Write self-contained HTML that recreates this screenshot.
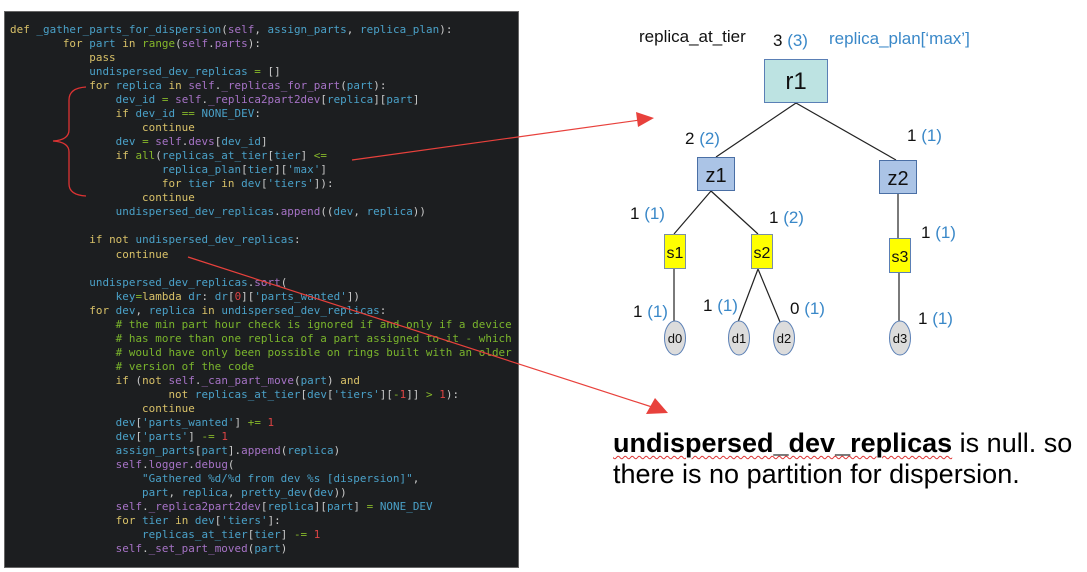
<!DOCTYPE html>
<html><head><meta charset="utf-8"><style>
html,body{margin:0;padding:0;background:#fff;width:1087px;height:572px;overflow:hidden;position:relative}
#code{position:absolute;left:4px;top:11px;width:515px;height:557px;background:#1c1e20;border:1px solid #666;box-sizing:border-box}
pre{position:absolute;left:10px;top:23px;margin:0;font-family:"DejaVu Sans Mono","Liberation Mono",monospace;font-size:10.9px;letter-spacing:0.045px;line-height:14.03px;color:#c9c9c9;white-space:pre}
.k{color:#d8c168}.v{color:#4aa1c8}.s{color:#a673c6}.g{color:#86b82a}.n{color:#dd4444}.c{color:#7ab52c}
svg{position:absolute;left:0;top:0}
.t{font-family:"Liberation Sans",sans-serif;font-size:17px;fill:#111}
.b{fill:#3a88c8}
#note{position:absolute;left:613px;top:428px;font-family:"Liberation Sans",sans-serif;font-size:27px;line-height:31px;color:#000;white-space:nowrap}
</style></head><body>
<div id="code"></div>
<pre><span class="k">def</span> <span class="v">_gather_parts_for_dispersion</span>(<span class="s">self</span>, <span class="v">assign_parts</span>, <span class="v">replica_plan</span>):
        <span class="k">for</span> <span class="v">part</span> <span class="k">in</span> <span class="g">range</span>(<span class="s">self</span>.<span class="s">parts</span>):
            <span class="k">pass</span>
            <span class="v">undispersed_dev_replicas</span> <span class="g">=</span> []
            <span class="k">for</span> <span class="v">replica</span> <span class="k">in</span> <span class="s">self</span>.<span class="s">_replicas_for_part</span>(<span class="v">part</span>):
                <span class="v">dev_id</span> <span class="g">=</span> <span class="s">self</span>.<span class="s">_replica2part2dev</span>[<span class="v">replica</span>][<span class="v">part</span>]
                <span class="k">if</span> <span class="v">dev_id</span> <span class="g">==</span> <span class="v">NONE_DEV</span>:
                    <span class="k">continue</span>
                <span class="v">dev</span> <span class="g">=</span> <span class="s">self</span>.<span class="s">devs</span>[<span class="v">dev_id</span>]
                <span class="k">if</span> <span class="g">all</span>(<span class="v">replicas_at_tier</span>[<span class="v">tier</span>] <span class="g">&lt;=</span>
                       <span class="v">replica_plan</span>[<span class="v">tier</span>][<span class="v">'max'</span>]
                       <span class="k">for</span> <span class="v">tier</span> <span class="k">in</span> <span class="v">dev</span>[<span class="v">'tiers'</span>]):
                    <span class="k">continue</span>
                <span class="v">undispersed_dev_replicas</span>.<span class="s">append</span>((<span class="v">dev</span>, <span class="v">replica</span>))

            <span class="k">if</span> <span class="k">not</span> <span class="v">undispersed_dev_replicas</span>:
                <span class="k">continue</span>

            <span class="v">undispersed_dev_replicas</span>.<span class="s">sort</span>(
                <span class="v">key</span><span class="g">=</span><span class="k">lambda</span> <span class="v">dr</span>: <span class="v">dr</span>[<span class="n">0</span>][<span class="v">'parts_wanted'</span>])
            <span class="k">for</span> <span class="v">dev</span>, <span class="v">replica</span> <span class="k">in</span> <span class="v">undispersed_dev_replicas</span>:
                <span class="c"># the min part hour check is ignored if and only if a device</span>
                <span class="c"># has more than one replica of a part assigned to it - which</span>
                <span class="c"># would have only been possible on rings built with an older</span>
                <span class="c"># version of the code</span>
                <span class="k">if</span> (<span class="k">not</span> <span class="s">self</span>.<span class="s">_can_part_move</span>(<span class="v">part</span>) <span class="k">and</span>
                        <span class="k">not</span> <span class="v">replicas_at_tier</span>[<span class="v">dev</span>[<span class="v">'tiers'</span>][<span class="g">-</span><span class="n">1</span>]] <span class="g">&gt;</span> <span class="n">1</span>):
                    <span class="k">continue</span>
                <span class="v">dev</span>[<span class="v">'parts_wanted'</span>] <span class="g">+=</span> <span class="n">1</span>
                <span class="v">dev</span>[<span class="v">'parts'</span>] <span class="g">-=</span> <span class="n">1</span>
                <span class="v">assign_parts</span>[<span class="v">part</span>].<span class="s">append</span>(<span class="v">replica</span>)
                <span class="s">self</span>.<span class="s">logger</span>.<span class="s">debug</span>(
                    <span class="v">"Gathered %d/%d from dev %s [dispersion]"</span>,
                    <span class="v">part</span>, <span class="v">replica</span>, <span class="v">pretty_dev</span>(<span class="v">dev</span>))
                <span class="s">self</span>.<span class="s">_replica2part2dev</span>[<span class="v">replica</span>][<span class="v">part</span>] <span class="g">=</span> <span class="v">NONE_DEV</span>
                <span class="k">for</span> <span class="v">tier</span> <span class="k">in</span> <span class="v">dev</span>[<span class="v">'tiers'</span>]:
                    <span class="v">replicas_at_tier</span>[<span class="v">tier</span>] <span class="g">-=</span> <span class="n">1</span>
                <span class="s">self</span>.<span class="s">_set_part_moved</span>(<span class="v">part</span>)</pre>
<svg width="1087" height="572" viewBox="0 0 1087 572">
<path d="M86 87 Q69 88 69 100 L69 130 Q69 140 53 141 Q69 142 69 152 L69 184 Q69 195 86 196" fill="none" stroke="#d33" stroke-width="1.3"/>
<line x1="352" y1="160" x2="640" y2="120" stroke="#e8413c" stroke-width="1.2"/>
<polygon points="654,118 636,112 638,127" fill="#e8413c"/>
<line x1="188" y1="257" x2="652" y2="407" stroke="#e8413c" stroke-width="1.2"/>
<polygon points="668,413 655,398 646,414" fill="#e8413c"/>
<g stroke="#222" stroke-width="1.2" fill="none">
<line x1="796" y1="103" x2="716" y2="157"/><line x1="796" y1="103" x2="896" y2="160"/>
<line x1="711" y1="191" x2="674" y2="234"/><line x1="711" y1="191" x2="758" y2="234"/>
<line x1="898" y1="194" x2="898" y2="238"/>
<line x1="674" y1="269" x2="674" y2="321"/>
<line x1="758" y1="269" x2="738" y2="322"/><line x1="758" y1="269" x2="780" y2="322"/>
<line x1="899" y1="272" x2="899" y2="321"/>
</g>
<rect x="764.5" y="59.5" width="63" height="43" fill="#bde3e2" stroke="#5a7fb5"/>
<rect x="697.5" y="157.5" width="37" height="33" fill="#abc4e6" stroke="#4a6fa5"/>
<rect x="879.5" y="160.5" width="37" height="33" fill="#abc4e6" stroke="#4a6fa5"/>
<rect x="664.5" y="234.5" width="21" height="34" fill="#ffff00" stroke="#7a8fa5"/>
<rect x="751.5" y="234.5" width="21" height="34" fill="#ffff00" stroke="#7a8fa5"/>
<rect x="889.5" y="238.5" width="21" height="34" fill="#ffff00" stroke="#5a7fb5"/>
<g fill="#dcdcdc" stroke="#5a7fb5">
<ellipse cx="675" cy="338" rx="10.5" ry="17"/><ellipse cx="739" cy="338" rx="10.5" ry="17"/>
<ellipse cx="784" cy="338" rx="10.5" ry="17"/><ellipse cx="900" cy="338" rx="10.5" ry="17"/>
</g>
<g font-family="Liberation Sans,sans-serif" fill="#111" text-anchor="middle">
<text x="796" y="89" font-size="24">r1</text>
<text x="716" y="182" font-size="20">z1</text>
<text x="898" y="185" font-size="20">z2</text>
<text x="675" y="258" font-size="16">s1</text>
<text x="762" y="258" font-size="16">s2</text>
<text x="900" y="262" font-size="16">s3</text>
<text x="675" y="343" font-size="13">d0</text>
<text x="739" y="343" font-size="13">d1</text>
<text x="784" y="343" font-size="13">d2</text>
<text x="900" y="343" font-size="13">d3</text>
</g>
<text class="t" x="639" y="42">replica_at_tier</text>
<text class="t b" x="829" y="44">replica_plan[‘max’]</text>
<text class="t" x="773" y="46" font-size="16">3 <tspan class="b">(3)</tspan></text>
<text class="t" x="685" y="144" font-size="16">2 <tspan class="b">(2)</tspan></text>
<text class="t" x="907" y="141" font-size="16">1 <tspan class="b">(1)</tspan></text>
<text class="t" x="630" y="219" font-size="16">1 <tspan class="b">(1)</tspan></text>
<text class="t" x="769" y="223" font-size="16">1 <tspan class="b">(2)</tspan></text>
<text class="t" x="921" y="238" font-size="16">1 <tspan class="b">(1)</tspan></text>
<text class="t" x="633" y="317" font-size="16">1 <tspan class="b">(1)</tspan></text>
<text class="t" x="703" y="311" font-size="16">1 <tspan class="b">(1)</tspan></text>
<text class="t" x="790" y="314" font-size="16">0 <tspan class="b">(1)</tspan></text>
<text class="t" x="918" y="324" font-size="16">1 <tspan class="b">(1)</tspan></text>
</svg>
<div id="note"><b style="text-decoration:underline wavy #d33;text-decoration-thickness:1px;text-underline-offset:3px">undispersed_dev_replicas</b> is null. so<br>there is no partition for dispersion.</div>
</body></html>
